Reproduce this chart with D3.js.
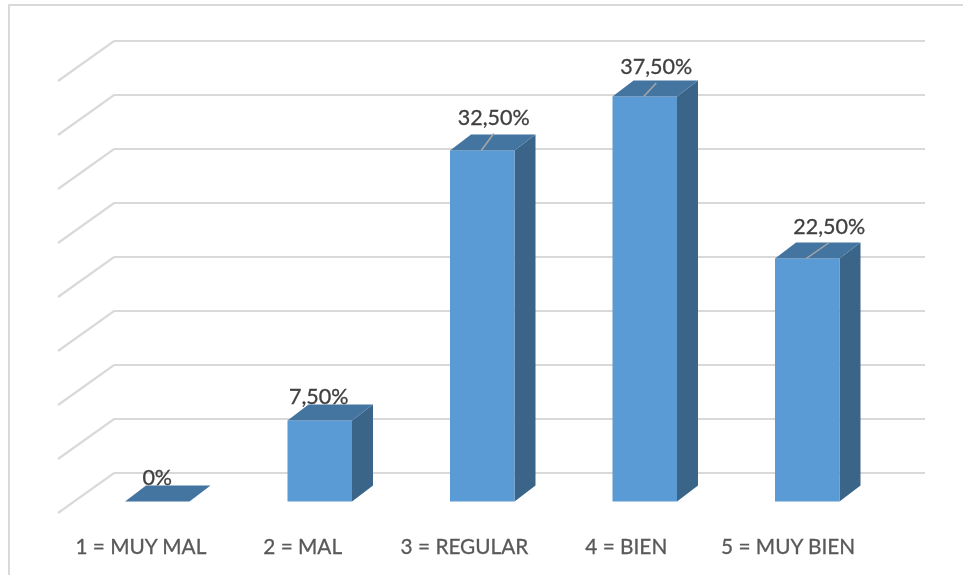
<!DOCTYPE html>
<html><head><meta charset="utf-8">
<script src="https://cdn.jsdelivr.net/npm/d3@7"></script>
<style>html,body{margin:0;padding:0;background:#fff}svg{display:block;filter:blur(0.45px)}</style>
</head><body><div id="chart"></div>
<script>
const categories = ["1 = MUY MAL","2 = MAL","3 = REGULAR","4 = BIEN","5 = MUY BIEN"];
const values = [0,7.5,32.5,37.5,22.5];
const valueLabels = ["0%","7,50%","32,50%","37,50%","22,50%"];
const gridTicks = [0,5,10,15,20,25,30,35,40];
const labelShiftX = [0,-1,11.5,11.5,22];
const labelLift = [25,25,34,30.5,33];

const W=963,H=575;
const svg=d3.select("#chart").append("svg").attr("width",W).attr("height",H);
const font="Lato, 'Open Sans', sans-serif";
// chart frame
const frame=svg.append("g").attr("stroke","#d9d9d9").attr("stroke-width",2);
frame.append("line").attr("x1",8).attr("x2",963).attr("y1",5).attr("y2",5);
frame.append("line").attr("x1",9).attr("x2",9).attr("y1",5).attr("y2",575);

const x=d3.scaleBand().domain(categories).range([58,870.5]);
const xText=d3.scaleBand().domain(categories).range([60,869]);
const y=d3.scaleLinear().domain([0,40]).range([513,81]);
const floorDX=56,floorDY=-40;
const barW=64.5,depthX=21,depthY=-16,barFront=18,barBase=501.5;

const grid=svg.append("g").attr("fill","none").attr("stroke","#d9d9d9").attr("stroke-width",2.2);
grid.selectAll("path").data(gridTicks).join("path")
  .attr("d",d=>`M${x.range()[0]},${y(d)}L${x.range()[0]+floorDX},${y(d)+floorDY}L${x.range()[1]+floorDX-1.5},${y(d)+floorDY}`);

const cx=d=>x(d)+x.bandwidth()/2+barFront;
const topY=v=>barBase-(y(0)-y(v));
const bars=svg.append("g").selectAll("g").data(categories.map((c,i)=>({c,v:values[i],i}))).join("g");
bars.append("path").attr("fill","#3a6589").attr("d",d=>{
  const r=cx(d.c)+barW/2,t=topY(d.v);
  return `M${r},${t}L${r+depthX},${t+depthY}L${r+depthX},${barBase+depthY}L${r},${barBase}Z`;});
bars.append("rect").attr("fill","#5b9bd5")
  .attr("x",d=>cx(d.c)-barW/2).attr("width",barW)
  .attr("y",d=>topY(d.v)).attr("height",d=>barBase-topY(d.v));
bars.append("path").attr("fill","#4475a1").attr("d",d=>{
  const l=cx(d.c)-barW/2,r=l+barW,t=topY(d.v);
  return `M${l},${t}L${r},${t}L${r+depthX},${t+depthY}L${l+depthX},${t+depthY}Z`;});
// leader lines
bars.filter(d=>d.v>10).append("line").attr("stroke","#a6a6a6").attr("stroke-width",1.5)
  .attr("x1",d=>cx(d.c)-1).attr("y1",d=>topY(d.v))
  .attr("x2",d=>cx(d.c)+labelShiftX[d.i]).attr("y2",d=>topY(d.v)-labelLift[d.i]+17);
bars.append("text").text(d=>valueLabels[d.i])
  .attr("x",d=>cx(d.c)+labelShiftX[d.i]).attr("y",d=>topY(d.v)-labelLift[d.i])
  .attr("text-anchor","middle").attr("dominant-baseline","central")
  .attr("font-family",font).attr("font-size",21.5).attr("fill","#404040")
  .attr("stroke","#404040").attr("stroke-width",0.3);

svg.append("g").selectAll("text").data(categories).join("text").text(d=>d)
  .attr("x",d=>xText(d)+xText.bandwidth()/2).attr("y",545)
  .attr("text-anchor","middle").attr("dominant-baseline","central")
  .attr("font-family",font).attr("font-size",20.8).attr("fill","#595959")
  .attr("stroke","#595959").attr("stroke-width",0.3);
</script></body></html>
